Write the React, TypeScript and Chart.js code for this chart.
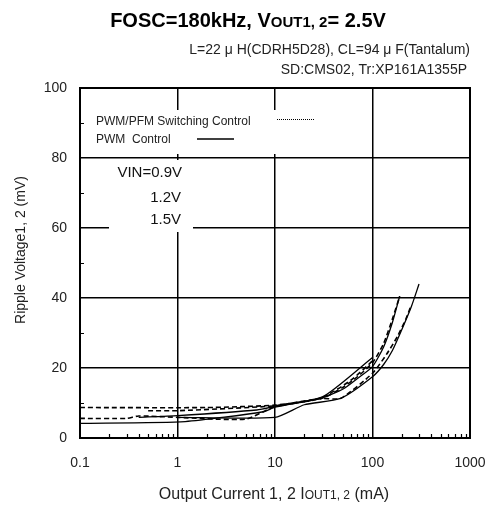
import React, { useEffect, useRef } from "react";
import { Chart, registerables } from "chart.js";
Chart.register(...registerables);

// ---- data ----
const xTickValues = [0.1, 1, 10, 100, 1000];
const yTickValues = [0, 20, 40, 60, 80, 100];
const xMinorValues = [2, 3, 4, 5, 6, 7, 8, 9];
const yMinorValues = [10, 30, 50, 70, 90];

// PWM Control (solid)
const pwm09I = [0.4, 1, 6.5, 10, 31, 100];
const pwm09V = [5.9, 6.4, 8.0, 9.0, 11.8, 23];
const pwm12I = [0.1, 1.2, 7.6, 10, 30, 50, 70, 100, 130, 160, 190];
const pwm12V = [4.2, 4.7, 7.5, 8.8, 11.4, 14, 17, 20.4, 26, 33, 40.5];
const pwm15I = [1, 10, 20, 47, 100, 130, 160, 200, 250, 300];
const pwm15V = [5.9, 5.9, 9.5, 11.3, 17.5, 21, 25, 31, 37.5, 44];

// PWM/PFM Switching Control (dashed)
const pfm09I = [0.5, 1, 10, 30, 60, 100];
const pfm09V = [7.8, 7.8, 9.2, 11.5, 16.5, 22];
const pfm12I = [0.1, 2, 10, 30, 50, 70, 100, 130, 160, 190];
const pfm12V = [8.7, 8.7, 9.4, 11.3, 14.5, 17.5, 21.5, 27, 34, 40.5];
const pfm15I = [0.1, 0.3, 0.4, 1, 5, 10, 30, 47, 100, 140, 180, 220, 250];
const pfm15V = [5.6, 5.6, 6.3, 5.9, 5.4, 9, 11.3, 11.3, 18.5, 24, 29, 34, 38];

const titleMain = "FOSC=180kHz, V";
const titleSub = "OUT1, 2";
const titleEnd = "= 2.5V";
const note1 = "L=22 μ H(CDRH5D28), CL=94 μ F(Tantalum)";
const note2 = "SD:CMS02, Tr:XP161A1355P";
const legendPfm = "PWM/PFM Switching Control";
const legendPwm = "PWM  Control";
const vinLabels = ["VIN=0.9V", "1.2V", "1.5V"];
const yTitle = "Ripple Voltage1, 2 (mV)";
const xTitleMain = "Output Current 1, 2 I";
const xTitleSub = "OUT1, 2";
const xTitleEnd = " (mA)";

const FONT = "'Liberation Sans', Arial, sans-serif";

const pts = (xs: number[], ys: number[]) => xs.map((x, i) => ({ x, y: ys[i] }));

function drawRuns(ctx: CanvasRenderingContext2D, runs: { t: string; f: string }[], x: number, y: number, align: "left" | "center" | "right") {
  let total = 0;
  const widths = runs.map((r) => {
    ctx.font = r.f;
    const w = ctx.measureText(r.t).width;
    total += w;
    return w;
  });
  let cx = align === "left" ? x : align === "center" ? x - total / 2 : x - total;
  ctx.textAlign = "left";
  ctx.textBaseline = "alphabetic";
  runs.forEach((r, i) => {
    ctx.font = r.f;
    ctx.fillText(r.t, cx, y);
    cx += widths[i];
  });
}

const decoPlugin = {
  id: "deco",
  beforeDatasetsDraw(chart: any) {
    const { ctx, chartArea: a } = chart;
    ctx.save();
    ctx.fillStyle = "#fff";
    // legend box
    ctx.fillRect(a.left + 1.5, 110, 322 - a.left, 44);
    // VIN box
    ctx.fillRect(109, 160, 84, 72);
    ctx.restore();
  },
  afterDatasetsDraw(chart: any) {
    const { ctx, chartArea: a, scales } = chart;
    const xs = scales.x;
    const ys = scales.y;
    ctx.save();
    // frame
    ctx.strokeStyle = "#000";
    ctx.lineWidth = 2;
    ctx.strokeRect(a.left, a.top, a.right - a.left, a.bottom - a.top);
    // minor ticks
    ctx.lineWidth = 1.2;
    ctx.beginPath();
    for (let d = 0.1; d < 1000; d *= 10) {
      xMinorValues.forEach((m) => {
        const px = Math.round(xs.getPixelForValue(d * m)) + 0.5;
        ctx.moveTo(px, a.bottom);
        ctx.lineTo(px, a.bottom - 4);
      });
    }
    yMinorValues.forEach((v) => {
      const py = Math.round(ys.getPixelForValue(v)) + 0.5;
      ctx.moveTo(a.left, py);
      ctx.lineTo(a.left + 4, py);
    });
    ctx.stroke();

    // texts
    ctx.fillStyle = "#000";
    drawRuns(ctx, [
      { t: titleMain, f: `bold 20px ${FONT}` },
      { t: titleSub, f: `bold 15px ${FONT}` },
      { t: titleEnd, f: `bold 20px ${FONT}` },
    ], 248, 27, "center");
    ctx.fillStyle = "#222";
    drawRuns(ctx, [{ t: note1, f: `14px ${FONT}` }], 470, 54, "right");
    drawRuns(ctx, [{ t: note2, f: `14px ${FONT}` }], 467, 74, "right");

    // legend
    drawRuns(ctx, [{ t: legendPfm, f: `12px ${FONT}` }], 96, 125, "left");
    drawRuns(ctx, [{ t: legendPwm, f: `12px ${FONT}` }], 96, 143, "left");
    ctx.strokeStyle = "#000";
    ctx.lineWidth = 1;
    ctx.setLineDash([1, 1]);
    ctx.beginPath();
    ctx.moveTo(277, 119.5);
    ctx.lineTo(314, 119.5);
    ctx.stroke();
    ctx.setLineDash([]);
    ctx.lineWidth = 1.5;
    ctx.beginPath();
    ctx.moveTo(197, 139);
    ctx.lineTo(234, 139);
    ctx.stroke();

    // VIN labels
    ctx.fillStyle = "#111";
    drawRuns(ctx, [{ t: vinLabels[0], f: `15px ${FONT}` }], 182, 177, "right");
    drawRuns(ctx, [{ t: vinLabels[1], f: `15px ${FONT}` }], 181, 202, "right");
    drawRuns(ctx, [{ t: vinLabels[2], f: `15px ${FONT}` }], 181, 224, "right");

    // axis titles
    ctx.fillStyle = "#222";
    drawRuns(ctx, [
      { t: xTitleMain, f: `16px ${FONT}` },
      { t: xTitleSub, f: `12px ${FONT}` },
      { t: xTitleEnd, f: `16px ${FONT}` },
    ], 274, 499, "center");
    ctx.save();
    ctx.translate(25, 250);
    ctx.rotate(-Math.PI / 2);
    drawRuns(ctx, [{ t: yTitle, f: `14px ${FONT}` }], 0, 0, "center");
    ctx.restore();
    ctx.restore();
  },
};

export default function App() {
  const ref = useRef<HTMLCanvasElement>(null);
  useEffect(() => {
    const solid = (data: any) => ({
      data,
      borderColor: "#000",
      borderWidth: 1.3,
      pointRadius: 0,
      fill: false,
      tension: 0.2,
    });
    const dashed = (data: any) => ({
      data,
      borderColor: "#000",
      borderWidth: 1.6,
      borderDash: [5, 3],
      pointRadius: 0,
      fill: false,
      tension: 0.2,
    });
    const chart = new Chart(ref.current!, {
      type: "line",
      data: {
        datasets: [
          solid(pts(pwm09I, pwm09V)),
          solid(pts(pwm12I, pwm12V)),
          solid(pts(pwm15I, pwm15V)),
          dashed(pts(pfm09I, pfm09V)),
          dashed(pts(pfm12I, pfm12V)),
          dashed(pts(pfm15I, pfm15V)),
        ],
      },
      options: {
        animation: false,
        responsive: false,
        layout: { padding: { top: 88, right: 23, left: 0, bottom: 0 } },
        plugins: { legend: { display: false }, tooltip: { enabled: false }, title: { display: false } },
        scales: {
          x: {
            type: "logarithmic",
            min: 0.1,
            max: 1000,
            afterBuildTicks: (s: any) => {
              s.ticks = xTickValues.map((v) => ({ value: v }));
            },
            afterFit: (s: any) => {
              s.height = 70;
              s.paddingLeft = 0;
              s.paddingRight = 0;
            },
            ticks: {
              autoSkip: false,
              maxRotation: 0,
              padding: 17,
              color: "#222",
              font: { family: FONT, size: 14 },
              callback: (v: any) => String(v),
            },
            grid: { color: "#000", lineWidth: 1.5, drawTicks: false },
            border: { color: "#000", width: 2 },
          },
          y: {
            min: 0,
            max: 100,
            afterBuildTicks: (s: any) => {
              s.ticks = yTickValues.map((v) => ({ value: v }));
            },
            afterFit: (s: any) => {
              s.width = 80;
              s.paddingTop = 0;
              s.paddingBottom = 0;
            },
            ticks: {
              padding: 13,
              color: "#222",
              font: { family: FONT, size: 14 },
            },
            grid: { color: "#000", lineWidth: 1.5, drawTicks: false },
            border: { color: "#000", width: 2 },
          },
        },
      },
      plugins: [decoPlugin],
    });
    return () => chart.destroy();
  }, []);
  return (
    <div style={{ position: "fixed", left: 0, top: 0, width: 493, height: 508, background: "#fff" }}>
      <canvas ref={ref} width={493} height={508} />
    </div>
  );
}
